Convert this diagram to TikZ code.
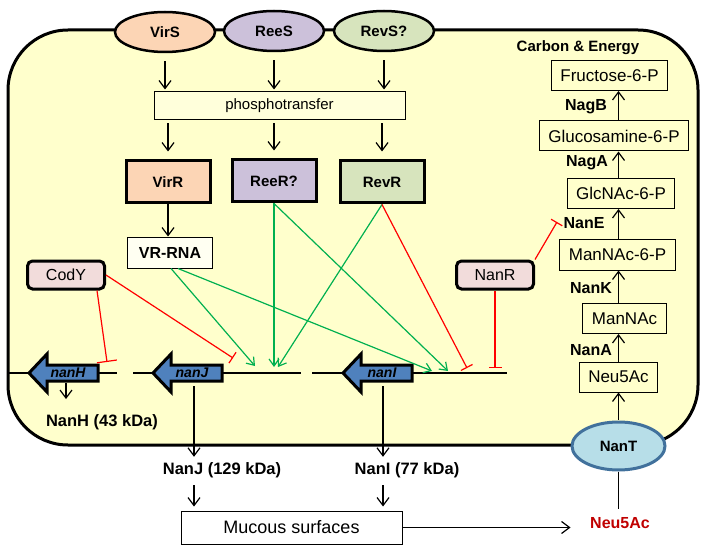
\documentclass[tikz,border=0pt]{standalone}
\usepackage{fontspec}
\setmainfont{Liberation Sans}
\usepackage{tikz}
\usetikzlibrary{positioning}
\usetikzlibrary{arrows.meta}
\usetikzlibrary{shapes.geometric}

\definecolor{cellfill}{HTML}{FFFFCC}
\definecolor{virfill}{HTML}{FCD5B5}
\definecolor{reefill}{HTML}{CCC1DA}
\definecolor{revfill}{HTML}{D7E4BD}
\definecolor{repfill}{HTML}{F2DCDB}
\definecolor{genefill}{HTML}{4F81BD}
\definecolor{nantfill}{HTML}{B7DEE8}
\definecolor{nantedge}{HTML}{41719C}
\definecolor{actgreen}{HTML}{00B050}
\definecolor{repred}{HTML}{FF0000}
\definecolor{neured}{HTML}{C00000}

\begin{document}
\begin{tikzpicture}[x=1pt,y=-1pt,
  sensor/.style={ellipse,draw,line width=2.5pt,minimum width=100pt,minimum height=40pt,inner sep=0pt,font=\fontsize{15}{15}\selectfont\bfseries},
  regbox/.style={draw,line width=3pt,minimum width=84pt,minimum height=42pt,inner sep=0pt,font=\fontsize{15}{15}\selectfont\bfseries},
  repbox/.style={draw,line width=3pt,rounded corners=5pt,fill=repfill,minimum width=77pt,minimum height=28pt,inner sep=0pt,font=\fontsize{16}{16}\selectfont},
  sugar/.style={draw,line width=1pt,minimum height=30pt,inner xsep=9pt,inner ysep=0pt,font=\fontsize{17}{17}\selectfont},
  enzyme/.style={font=\fontsize{16}{16}\selectfont\bfseries,inner sep=1pt},
  product/.style={font=\fontsize{16.5}{16.5}\selectfont\bfseries},
  act/.style={draw=actgreen,line width=1.2pt,-{Straight Barb[length=7pt,width=10pt]}},
  rep/.style={draw=repred,line width=1.2pt,-{Bar[width=13pt]}},
  flow/.style={draw,line width=1.2pt,-{Straight Barb[length=8pt,width=12pt]}}
]
\useasboundingbox (0,0) rectangle (706,553);

% the cell
\draw[line width=3pt,fill=cellfill,rounded corners=60pt] (8,30) rectangle (698,445);

% two-component systems
\node[sensor,fill=virfill] (virs) at (165,32) {VirS};
\node[sensor,fill=reefill] (rees) at (274,31) {ReeS};
\node[sensor,fill=revfill] (revs) at (384,31) {RevS?};

\node[draw,line width=1pt,fill=white!30!cellfill,minimum width=251pt,minimum height=28pt,font=\fontsize{15}{15}\selectfont] (phos) at (279.5,106) {phosphotransfer};

\node[regbox,fill=virfill] (virr) at (168,182) {VirR};
\node[regbox,fill=reefill] (reer) at (274,181) {ReeR?};
\node[regbox,fill=revfill] (revr) at (382,182) {RevR};

\foreach \s/\r in {virs/virr,rees/reer,revs/revr} {
  \draw[flow,shorten <=8pt,shorten >=2pt] (\s.south) -- (\s.south |- phos.north);
  \draw[flow,shorten <=3pt,shorten >=8pt] (phos.south -| \r.north) -- (\r.north);
}

\node[draw,line width=1pt,fill=white!75!cellfill,minimum width=85pt,minimum height=30pt,font=\fontsize{16}{16}\selectfont\bfseries] (vrrna) at (170,253) {VR-RNA};
\draw[flow,shorten >=1pt] (virr.south) -- (vrrna.north -| virr.south);

\node[repbox] (cody) at (66,275) {CodY};
\node[repbox] (nanr) at (495,275) {NanR};

% nan genes
\draw[line width=2pt] (8,373) -- (117,373) (133,373) -- (301,373) (312,373) -- (507,373);
\foreach \tip/\nm/\lab in {29/nanh/nanH, 153/nanj/nanJ, 343/nani/nanI} {
  \draw[line width=3pt,fill=genefill,line join=miter] (\tip,373) -- (\tip+18,354) -- (\tip+18,365) -- (\tip+69,365)
    -- (\tip+69,381) -- (\tip+18,381) -- (\tip+18,392) -- cycle;
  \node[font=\fontsize{14}{14}\selectfont\bfseries\itshape] (\nm) at (\tip+39,373) {\lab};
}

\coordinate (hbar) at (107,362);
\coordinate (jbar) at (233,358);
\coordinate (jpro1) at (255,366);
\coordinate (jpro2) at (274,367);
\coordinate (jpro3) at (278,367);
\coordinate (ipro1) at (432,371);
\coordinate (ipro2) at (448,371);
\coordinate (ibar1) at (467,368);
\coordinate (ibar2) at (495,368);

\draw[act] ([xshift=1pt]vrrna.south) -- (jpro1);
\draw[act] ([xshift=8pt]vrrna.south) -- (ipro1);
\draw[act] (reer.south) -- (jpro2);
\draw[act] (reer.south) -- (ipro2);
\draw[act] (revr.south) -- (jpro3);

\draw[rep] (revr.south) -- (ibar1);
\draw[rep] (nanr.south) -- (ibar2);
\draw[rep,-{Bar[width=20pt]}] ([xshift=31pt]cody.south) -- (hbar);
\draw[rep] (cody.east) -- (jbar);

% products
\coordinate (hout) at (66,383);
\coordinate (jout) at (194,386);
\coordinate (iout) at (383,386);
\node[product] (nanhp) at (102,422) {NanH (43 kDa)};
\node[product] (nanjp) at (222,470) {NanJ (129 kDa)};
\node[product] (nanip) at (407,470) {NanI (77 kDa)};
\node[draw,line width=1pt,fill=white,minimum width=221pt,minimum height=33pt,font=\fontsize{18}{18}\selectfont] (mucous) at (291.5,527.5) {Mucous surfaces};

\draw[flow] (hout) -- ++(0,16);
\draw[flow,shorten >=2pt] (jout) -- (jout |- nanjp.north);
\draw[flow,shorten >=2pt] (iout) -- (iout |- nanip.north);
\draw[flow,shorten <=4pt,shorten >=4pt] (jout |- nanjp.south) -- (jout |- mucous.north);
\draw[flow,shorten <=4pt,shorten >=4pt] (iout |- nanip.south) -- (iout |- mucous.north);

\node[font=\fontsize{16}{16}\selectfont\bfseries,text=neured] (sia) at (620,523) {Neu5Ac};
\draw[flow] (mucous.east) -- ++(168,0);

\node[ellipse,draw=nantedge,line width=3pt,fill=nantfill,minimum width=93pt,minimum height=48pt,inner sep=0pt,font=\fontsize{15}{15}\selectfont\bfseries] (nant) at (618.5,446) {NanT};
\draw[line width=1.2pt,shorten <=5pt] (sia.north -| nant.south) -- (nant.south);

% sialic acid catabolism
\node[sugar] (neu) at (618.5,377) {Neu5Ac};
\node[sugar] (mannac) at (624.5,318.5) {ManNAc};
\node[sugar] (mannac6p) at (617.5,255) {ManNAc-6-P};
\node[sugar] (glcnac6p) at (621,193.5) {GlcNAc-6-P};
\node[sugar] (glcn6p) at (614,136) {Glucosamine-6-P};
\node[sugar] (fru6p) at (609.5,75.5) {Fructose-6-P};
\node[font=\fontsize{15}{15}\selectfont\bfseries] (carbon) at (578,48) {Carbon \& Energy};

\draw[flow,shorten <=1pt] (nant.north) -- (neu.south -| nant.north);
\foreach \a/\b in {neu/mannac,mannac/mannac6p,mannac6p/glcnac6p,glcnac6p/glcn6p,glcn6p/fru6p}
  \draw[flow] (\a.north -| nant.north) -- (\b.south -| nant.north);

\node[enzyme] (nagb) at (586,107) {NagB};
\node[enzyme] (naga) at (587,163) {NagA};
\node[enzyme] (nane) at (584,223) {NanE};
\node[enzyme] (nank) at (591,288) {NanK};
\node[enzyme] (nana) at (591,350) {NanA};

\coordinate (ebar) at (557,222);
\draw[rep] (nanr.north east) -- (ebar);

\end{tikzpicture}
\end{document}
